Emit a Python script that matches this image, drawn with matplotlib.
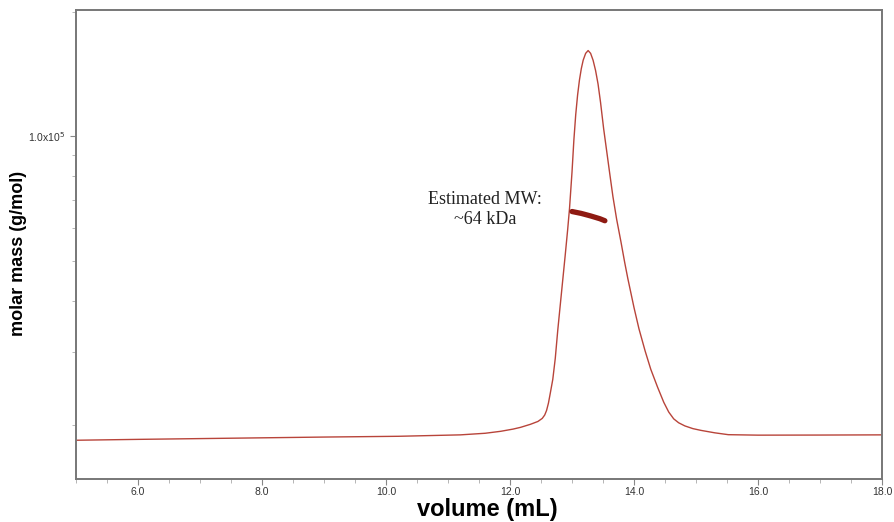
import matplotlib
matplotlib.use("Agg")
import matplotlib.pyplot as plt
from matplotlib.ticker import LogLocator, NullFormatter, FixedLocator, MultipleLocator

plt.rcParams["font.family"] = ["Liberation Sans", "DejaVu Sans"]

# Trace (volume in mL, value on molar-mass log axis)
volume = [5.0, 6.0, 7.0, 8.0, 9.0, 10.2, 11.2, 11.6, 11.85, 12.05, 12.17, 12.33, 12.45, 12.52,
          12.56, 12.59, 12.62, 12.65, 12.69, 12.73, 12.77, 12.81, 12.85, 12.89, 12.93, 12.96,
          13.00, 13.03, 13.06, 13.09, 13.12, 13.15, 13.18, 13.22, 13.26, 13.30, 13.34, 13.38,
          13.42, 13.46, 13.51, 13.56, 13.61, 13.66, 13.72, 13.79, 13.85, 13.90, 14.00, 14.08,
          14.18, 14.27, 14.38, 14.48, 14.56, 14.64, 14.72, 14.82, 14.95, 15.08, 15.30, 15.52,
          16.0, 17.0, 18.0]
signal = [18370, 18460, 18540, 18620, 18700, 18780, 18930, 19100, 19310, 19550, 19740, 20080, 20400, 20750,
          21150, 21700, 22600, 23900, 25800, 29000, 33910, 39000, 44810, 51500, 59500, 67000,
          82000, 98000, 113000, 126000, 137000, 146000, 153000, 159000, 161500, 159000, 153000, 144500,
          134000, 121000, 104500, 92000, 81000, 71500, 63000, 55500, 49500, 45300, 38500, 34200,
          30200, 27300, 24700, 22700, 21500, 20700, 20250, 19900, 19600, 19410, 19150, 18950,
          18900, 18910, 18930]

# Molar mass segment across the peak
mw_volume = [13.0, 13.15, 13.3, 13.45, 13.53]
mw_mass = [65800, 65100, 64200, 63200, 62500]

x_ticks = [6.0, 8.0, 10.0, 12.0, 14.0, 16.0, 18.0]
x_tick_labels = ["6.0", "8.0", "10.0", "12.0", "14.0", "16.0", "18.0"]

fig = plt.figure(figsize=(8.94, 5.22), dpi=100)
ax = fig.add_axes([0.085, 0.0824, 0.9016, 0.8976])

ax.plot(volume, signal, color="#b8443a", lw=1.0)
ax.plot(mw_volume, mw_mass, color="#8e1a12", lw=3.8, solid_capstyle="round")

ax.set_yscale("log")
ax.set_xlim(5.0, 18.0)
ax.set_ylim(14800, 202000)

ax.xaxis.set_major_locator(FixedLocator(x_ticks))
ax.set_xticklabels(x_tick_labels)
ax.xaxis.set_minor_locator(MultipleLocator(0.5))

ax.yaxis.set_major_locator(FixedLocator([1e5]))
ax.set_yticklabels([r"1.0x10$^5$"])
ax.yaxis.set_minor_locator(LogLocator(base=10, subs=range(2, 10)))
ax.yaxis.set_minor_formatter(NullFormatter())

for sp in ax.spines.values():
    sp.set_color("#777777")
    sp.set_linewidth(1.4)

ax.tick_params(axis="both", which="major", direction="out", length=4, width=0.8,
               colors="#888888", labelcolor="#333333", labelsize=7.5)
ax.tick_params(axis="both", which="minor", direction="out", length=3, width=0.6,
               colors="#aaaaaa")
ax.tick_params(axis="x", pad=2)

fig.text(0.545, 0.024, "volume (mL)", fontsize=17, fontweight="bold",
         ha="center", va="center")
fig.text(0.021, 0.515, "molar mass (g/mol)", fontsize=13, fontweight="bold",
         ha="center", va="center", rotation=90)

ax.text(11.6, 66500, "Estimated MW:\n~64 kDa", family="Liberation Serif",
        fontsize=13, ha="center", va="center", color="#222222", linespacing=1.2)

fig.savefig("out.png", dpi=100)
